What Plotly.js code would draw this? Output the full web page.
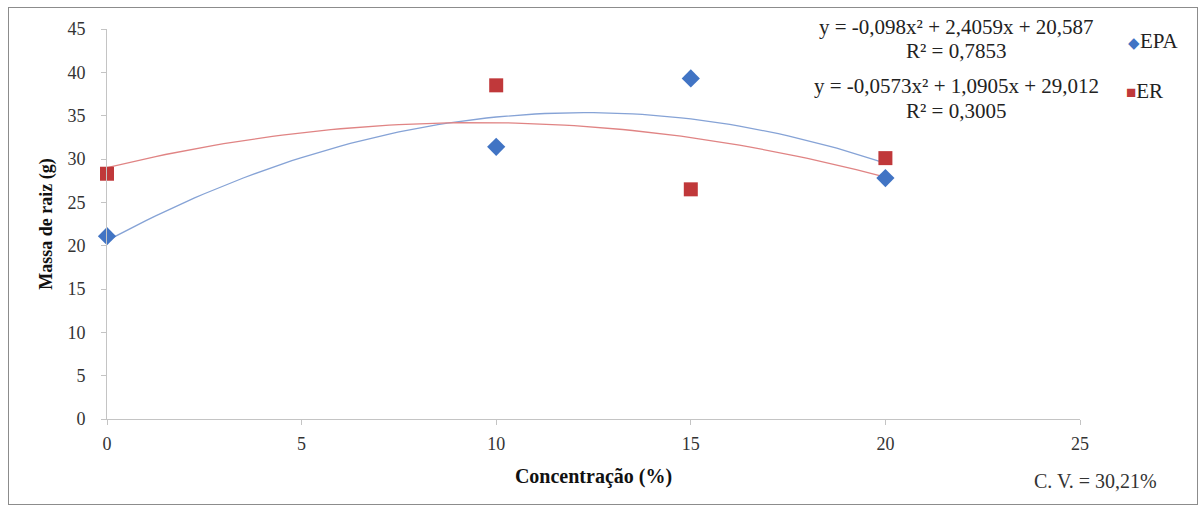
<!DOCTYPE html>
<html>
<head>
<meta charset="utf-8">
<script src="https://cdn.plot.ly/plotly-3.0.1.min.js"></script>
<style>
  html, body { margin: 0; padding: 0; background: #fff; }
  #wrap { position: relative; width: 1201px; height: 508px; }
  #chart { position: absolute; left: 0; top: 0; width: 1201px; height: 508px; }
  #frame { position: absolute; left: 8px; top: 7px; width: 1188px; height: 496px; border: 1px solid #8c8c8c; pointer-events: none; }
</style>
</head>
<body>
<div id="wrap">
  <div id="chart"></div>
  <div id="frame"></div>
</div>
<script>
// Data
const concentracao = [0, 10, 15, 20];
const epaValues = [21.1, 31.4, 39.3, 27.8];
const erValues = [28.3, 38.5, 26.5, 30.1];

// Polynomial trend coefficients shown on the chart [a, b, c] for y = a x^2 + b x + c
const epaCoef = [-0.098, 2.4059, 20.587];
const erCoef = [-0.0573, 1.0905, 29.012];

const epaEquation = ["y = -0,098x² + 2,4059x + 20,587", "R² = 0,7853"];
const erEquation = ["y = -0,0573x² + 1,0905x + 29,012", "R² = 0,3005"];
const seriesNames = ["EPA", "ER"];
const cvText = "C. V. = 30,21%";

const xTicks = [0, 5, 10, 15, 20, 25];
const yTicks = [0, 5, 10, 15, 20, 25, 30, 35, 40, 45];

function trend(coef) {
  const xs = [], ys = [];
  const xmin = Math.min(...concentracao), xmax = Math.max(...concentracao);
  for (let i = 0; i <= 80; i++) {
    const x = xmin + (xmax - xmin) * i / 80;
    xs.push(x);
    ys.push(coef[0] * x * x + coef[1] * x + coef[2]);
  }
  return {x: xs, y: ys};
}

const blue = '#4174C4';
const red = '#C0383A';
const font = '"Liberation Serif", serif';

const tEpa = trend(epaCoef);
const tEr = trend(erCoef);

const traces = [
  {x: tEpa.x, y: tEpa.y, mode: 'lines', line: {color: '#86A3D6', width: 1.3}, showlegend: false, hoverinfo: 'skip', cliponaxis: false},
  {x: tEr.x, y: tEr.y, mode: 'lines', line: {color: '#E08484', width: 1.3}, showlegend: false, hoverinfo: 'skip', cliponaxis: false},
  {x: concentracao, y: epaValues, mode: 'markers', name: seriesNames[0], showlegend: false, cliponaxis: false,
   marker: {symbol: 'diamond', size: 14, color: blue}},
  {x: concentracao, y: erValues, mode: 'markers', name: seriesNames[1], showlegend: false, cliponaxis: false,
   marker: {symbol: 'square', size: 14, color: red}}
];

const eqFont = {family: font, size: 21, color: '#222'};
function paperY(px) { return (419 - px) / 390; }
function paperX(px) { return (px - 107) / 973; }

const layout = {
  width: 1201, height: 508,
  margin: {l: 107, r: 121, t: 29, b: 89},
  paper_bgcolor: '#fff', plot_bgcolor: '#fff',
  font: {family: font, size: 17, color: '#222'},
  xaxis: {
    range: [0, 25], tickvals: xTicks, ticktext: xTicks.map(String),
    showgrid: false, zeroline: false, showline: true, linecolor: '#C4C4C4', linewidth: 1,
    ticks: 'outside', ticklen: 5, tickcolor: '#C4C4C4', ticklabelstandoff: 3,
    tickfont: {family: font, size: 18, color: '#333'},
    title: {text: '<b>Concentração (%)</b>', font: {family: font, size: 20, color: '#111'}, standoff: 16}
  },
  yaxis: {
    range: [0, 45], tickvals: yTicks, ticktext: yTicks.map(String),
    showgrid: false, zeroline: false, showline: true, linecolor: '#C4C4C4', linewidth: 1,
    ticks: 'outside', ticklen: 5, tickcolor: '#C4C4C4', ticklabelstandoff: 12,
    tickfont: {family: font, size: 18, color: '#333'},
    title: {text: '<b>Massa de raiz (g)</b>', font: {family: font, size: 18, color: '#111'}, standoff: 10}
  },
  showlegend: false,
  annotations: [
    {xref: 'paper', yref: 'paper', x: paperX(956), y: paperY(27), xanchor: 'center', yanchor: 'middle', showarrow: false,
     text: epaEquation[0], font: eqFont},
    {xref: 'paper', yref: 'paper', x: paperX(956), y: paperY(51), xanchor: 'center', yanchor: 'middle', showarrow: false,
     text: epaEquation[1], font: eqFont},
    {xref: 'paper', yref: 'paper', x: paperX(956), y: paperY(86), xanchor: 'center', yanchor: 'middle', showarrow: false,
     text: erEquation[0], font: eqFont},
    {xref: 'paper', yref: 'paper', x: paperX(956), y: paperY(111), xanchor: 'center', yanchor: 'middle', showarrow: false,
     text: erEquation[1], font: eqFont},
    {xref: 'paper', yref: 'paper', x: paperX(1126), y: paperY(41), xanchor: 'left', yanchor: 'middle', showarrow: false,
     text: '<span style="color:' + blue + ';font-size:15px">◆</span>' + seriesNames[0], font: eqFont},
    {xref: 'paper', yref: 'paper', x: paperX(1124), y: paperY(91), xanchor: 'left', yanchor: 'middle', showarrow: false,
     text: '<span style="color:' + red + ';font-size:17px">■</span>' + seriesNames[1], font: eqFont},
    {xref: 'paper', yref: 'paper', x: paperX(1095), y: paperY(481), xanchor: 'center', yanchor: 'middle', showarrow: false,
     text: cvText, font: {family: font, size: 20, color: '#333'}}
  ]
};

Plotly.newPlot('chart', traces, layout, {displayModeBar: false, staticPlot: true});
</script>
</body>
</html>
